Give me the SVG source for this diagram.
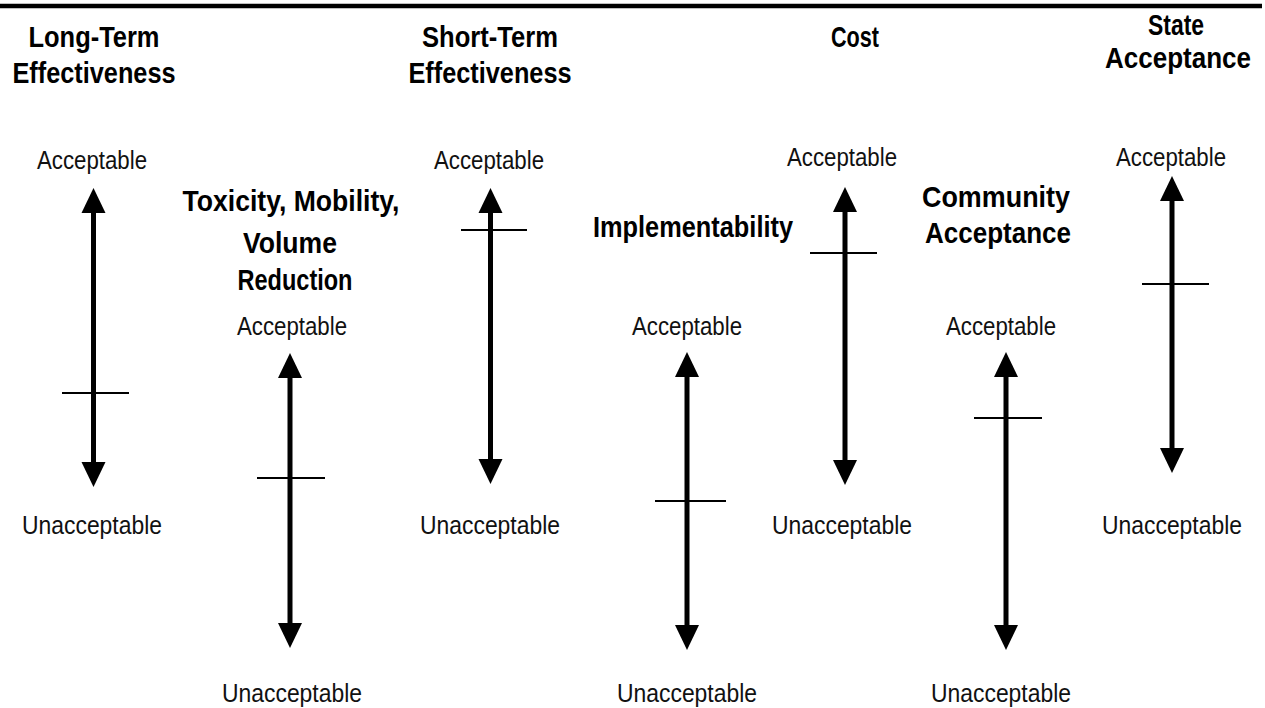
<svg xmlns="http://www.w3.org/2000/svg" width="1265" height="708" viewBox="0 0 1265 708">
<style>
.t{font-family:"Liberation Sans",Arial,sans-serif;font-weight:bold;font-size:30px;fill:#000;text-anchor:middle}
.l{font-family:"Liberation Sans",Arial,sans-serif;font-size:25px;fill:#111;text-anchor:middle}
.shaft{stroke:#000;stroke-width:5}
.tick{stroke:#000;stroke-width:2}
.head{fill:#000}
</style>
<rect width="1265" height="708" fill="#fff"/>
<line x1="0" y1="6" x2="1262" y2="6" stroke="#000" stroke-width="4.5"/>
<g id="col1">
<text class="t" x="94" y="47" textLength="131" lengthAdjust="spacingAndGlyphs">Long-Term</text>
<text class="t" x="94" y="83" textLength="163" lengthAdjust="spacingAndGlyphs">Effectiveness</text>
<text class="l" x="92" y="169" textLength="110" lengthAdjust="spacingAndGlyphs">Acceptable</text>
<text class="l" x="92" y="534" textLength="140" lengthAdjust="spacingAndGlyphs">Unacceptable</text>
</g>
<g id="col2">
<text class="t" x="291" y="211" textLength="217" lengthAdjust="spacingAndGlyphs">Toxicity, Mobility,</text>
<text class="t" x="290" y="253" textLength="94" lengthAdjust="spacingAndGlyphs">Volume</text>
<text class="t" x="295" y="290" textLength="115" lengthAdjust="spacingAndGlyphs">Reduction</text>
<text class="l" x="292" y="335" textLength="110" lengthAdjust="spacingAndGlyphs">Acceptable</text>
<text class="l" x="292" y="702" textLength="140" lengthAdjust="spacingAndGlyphs">Unacceptable</text>
</g>
<g id="col3">
<text class="t" x="490" y="47" textLength="136" lengthAdjust="spacingAndGlyphs">Short-Term</text>
<text class="t" x="490" y="83" textLength="163" lengthAdjust="spacingAndGlyphs">Effectiveness</text>
<text class="l" x="489" y="169" textLength="110" lengthAdjust="spacingAndGlyphs">Acceptable</text>
<text class="l" x="490" y="534" textLength="140" lengthAdjust="spacingAndGlyphs">Unacceptable</text>
</g>
<g id="col4">
<text class="t" x="693" y="237" textLength="200" lengthAdjust="spacingAndGlyphs">Implementability</text>
<text class="l" x="687" y="335" textLength="110" lengthAdjust="spacingAndGlyphs">Acceptable</text>
<text class="l" x="687" y="702" textLength="140" lengthAdjust="spacingAndGlyphs">Unacceptable</text>
</g>
<g id="col5">
<text class="t" x="855" y="47" textLength="48" lengthAdjust="spacingAndGlyphs">Cost</text>
<text class="l" x="842" y="166" textLength="110" lengthAdjust="spacingAndGlyphs">Acceptable</text>
<text class="l" x="842" y="534" textLength="140" lengthAdjust="spacingAndGlyphs">Unacceptable</text>
</g>
<g id="col6">
<text class="t" x="996" y="207" textLength="148" lengthAdjust="spacingAndGlyphs">Community</text>
<text class="t" x="998" y="243" textLength="146" lengthAdjust="spacingAndGlyphs">Acceptance</text>
<text class="l" x="1001" y="335" textLength="110" lengthAdjust="spacingAndGlyphs">Acceptable</text>
<text class="l" x="1001" y="702" textLength="140" lengthAdjust="spacingAndGlyphs">Unacceptable</text>
</g>
<g id="col7">
<text class="t" x="1176" y="35" textLength="56" lengthAdjust="spacingAndGlyphs">State</text>
<text class="t" x="1178" y="68" textLength="146" lengthAdjust="spacingAndGlyphs">Acceptance</text>
<text class="l" x="1171" y="166" textLength="110" lengthAdjust="spacingAndGlyphs">Acceptable</text>
<text class="l" x="1172" y="534" textLength="140" lengthAdjust="spacingAndGlyphs">Unacceptable</text>
</g>
<g id="connectors">
<line class="shaft" x1="93.5" y1="210" x2="93.5" y2="465"/>
<polygon class="head" points="93.5,188 81.5,213 105.5,213"/>
<polygon class="head" points="93.5,487 81.5,462 105.5,462"/>
<line class="tick" x1="62" y1="393" x2="129" y2="393"/>
<line class="shaft" x1="290" y1="375" x2="290" y2="626"/>
<polygon class="head" points="290,353 278,378 302,378"/>
<polygon class="head" points="290,648 278,623 302,623"/>
<line class="tick" x1="257" y1="478" x2="325" y2="478"/>
<line class="shaft" x1="490.5" y1="210" x2="490.5" y2="462"/>
<polygon class="head" points="490.5,188 478.5,213 502.5,213"/>
<polygon class="head" points="490.5,484 478.5,459 502.5,459"/>
<line class="tick" x1="461" y1="230" x2="527" y2="230"/>
<line class="shaft" x1="687" y1="374" x2="687" y2="628"/>
<polygon class="head" points="687,352 675,377 699,377"/>
<polygon class="head" points="687,650 675,625 699,625"/>
<line class="tick" x1="655" y1="501" x2="726" y2="501"/>
<line class="shaft" x1="845" y1="209" x2="845" y2="463"/>
<polygon class="head" points="845,187 833,212 857,212"/>
<polygon class="head" points="845,485 833,460 857,460"/>
<line class="tick" x1="810" y1="253" x2="877" y2="253"/>
<line class="shaft" x1="1006" y1="374" x2="1006" y2="628"/>
<polygon class="head" points="1006,352 994,377 1018,377"/>
<polygon class="head" points="1006,650 994,625 1018,625"/>
<line class="tick" x1="974" y1="418" x2="1042" y2="418"/>
<line class="shaft" x1="1172" y1="198" x2="1172" y2="451"/>
<polygon class="head" points="1172,176 1160,201 1184,201"/>
<polygon class="head" points="1172,473 1160,448 1184,448"/>
<line class="tick" x1="1142" y1="284" x2="1209" y2="284"/>
</g>
</svg>
